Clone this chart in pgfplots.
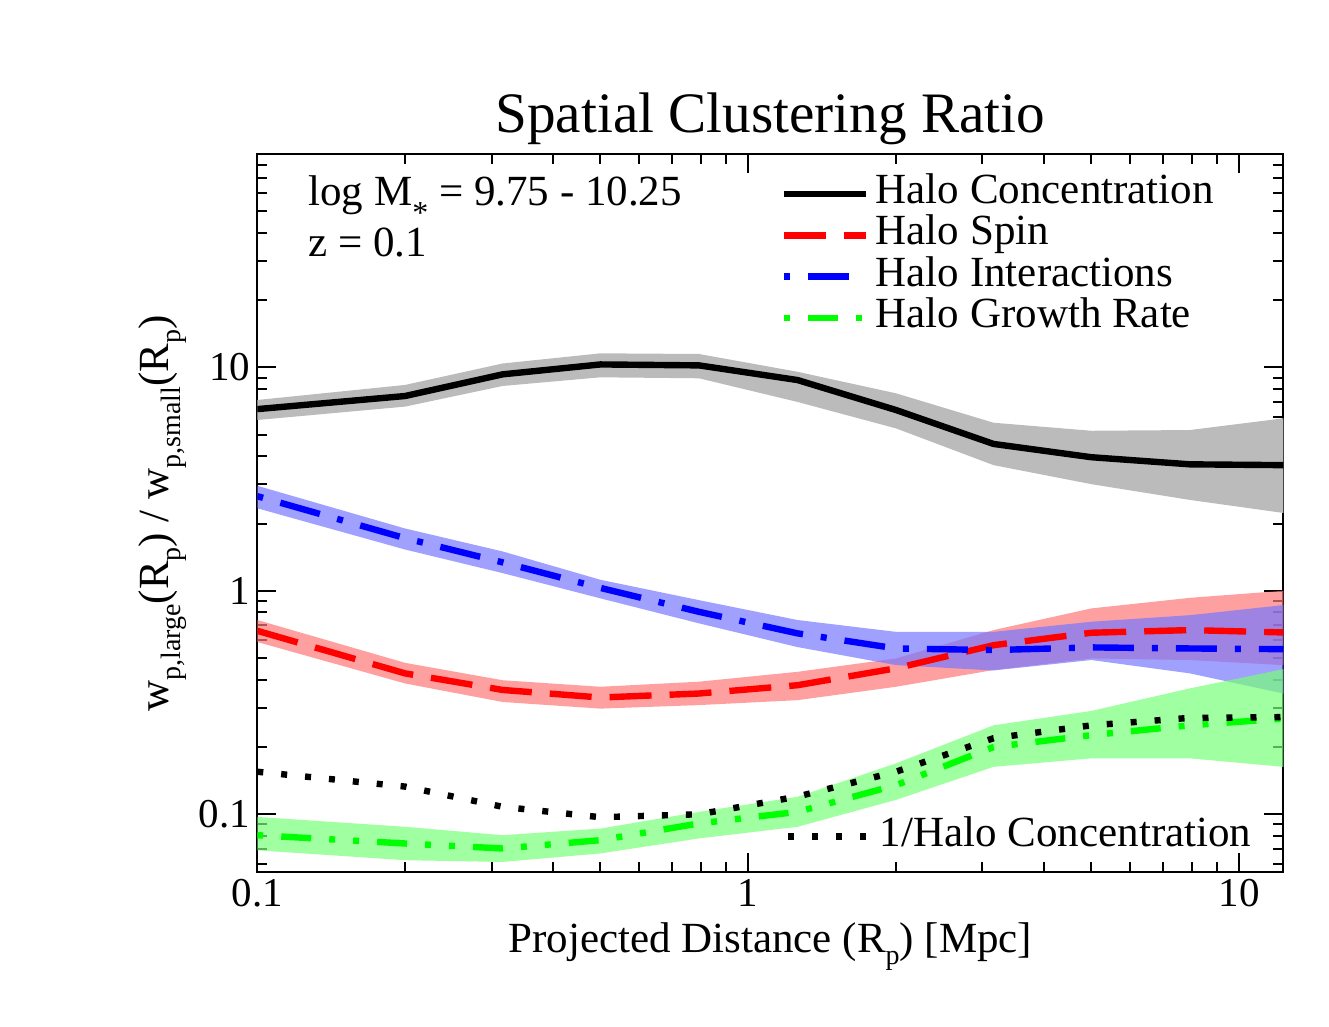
\documentclass[border=0pt]{standalone}
\usepackage{pgfplots}
\pgfplotsset{compat=1.18}
\usepackage{fontspec}
\setmainfont{Liberation Serif}

\newcommand{\lab}{\fontsize{21.5}{25}\selectfont}
\newcommand{\tck}{\fontsize{20.5}{24}\selectfont}
\newcommand{\ttl}{\fontsize{28.6}{33}\selectfont}
\newcommand{\sub}[1]{\raisebox{-6pt}{\fontsize{14}{14}\selectfont #1}}
\definecolor{bandgray}{RGB}{187,187,187}
\definecolor{bandred}{RGB}{255,119,119}
\definecolor{bandblue}{RGB}{119,119,255}
\definecolor{bandgreen}{RGB}{119,255,119}

\begin{document}
\begin{tikzpicture}
\useasboundingbox (0,0) rectangle (664.5pt,513.5pt);
\begin{axis}[
  xmode=log, ymode=log,
  scale only axis, width=513pt, height=358.9pt,
  at={(128.65pt,77.35pt)}, anchor=south west,
  xmin=0.1, xmax=12.3, ymin=0.055, ymax=89.6,
  xtick={0.1,1,10}, xticklabels={0.1,1,10},
  ytick={0.1,1,10}, yticklabels={0.1,1,10},
  minor xtick={0.2,0.3,0.4,0.5,0.6,0.7,0.8,0.9,2,3,4,5,6,7,8,9},
  minor ytick={0.06,0.07,0.08,0.09,0.2,0.3,0.4,0.5,0.6,0.7,0.8,0.9,2,3,4,5,6,7,8,9,20,30,40,50,60,70,80},
  tick align=inside,
  major tick length=9.5pt, minor tick length=5pt,
  every tick/.style={black, line width=1pt},
  axis line style={line width=1pt},
  ticklabel style={font=\tck},
  /pgf/number format/assume math mode=true,
  title={Spatial Clustering Ratio},
  title style={font=\ttl, at={(0.5,1.0133)}, anchor=base, yshift=0pt},
  xlabel={Projected Distance (R\sub{p}) [Mpc]},
  xlabel style={font=\lab, at={(0.5,-0.1115)}, anchor=base},
  ylabel={w\sub{p,large}(R\sub{p}) / w\sub{p,small}(R\sub{p})},
  ylabel style={font=\lab, at={(-0.0867,0.5)}, anchor=base},
  legend cell align=left,
  legend style={at={(0.51,0.9738)}, anchor=north west, draw=none, fill=none, inner sep=0pt, font=\lab,
    nodes={inner xsep=3.25pt, inner ysep=0pt, text height=15pt, text depth=5.6pt}, row sep=0pt},
  legend image code/.code={\draw[#1] (0pt,0pt) -- (41pt,0pt);},
]
% bands
\addplot[fill=bandgray, draw=none, forget plot] coordinates {
 (0.1,7.14) (0.2,8.34) (0.316,10.4) (0.5,11.55) (0.794,11.47) (1.26,9.55) (2.0,7.65) (3.16,5.65) (5.0,5.2) (7.94,5.24) (12.3,5.91)
 (12.3,2.23) (7.94,2.55) (5.0,3.0) (3.16,3.65) (2.0,5.33) (1.26,7.0) (0.794,8.93) (0.5,9.02) (0.316,8.25) (0.2,6.67) (0.1,5.81)};
\addplot[fill=bandred, fill opacity=0.7, draw=none, forget plot] coordinates {
 (0.1,0.74) (0.2,0.476) (0.316,0.398) (0.5,0.372) (0.794,0.392) (1.26,0.434) (2.0,0.498) (3.16,0.667) (5.0,0.834) (7.94,0.93) (12.3,1.0)
 (12.3,0.465) (7.94,0.49) (5.0,0.498) (3.16,0.442) (2.0,0.372) (1.26,0.324) (0.794,0.308) (0.5,0.297) (0.316,0.318) (0.2,0.385) (0.1,0.59)};
\addplot[fill=bandblue, fill opacity=0.7, draw=none, forget plot] coordinates {
 (0.1,2.95) (0.2,1.90) (0.316,1.50) (0.5,1.12) (0.794,0.908) (1.26,0.74) (2.0,0.655) (3.16,0.655) (5.0,0.727) (7.94,0.778) (12.3,0.863)
 (12.3,0.347) (7.94,0.427) (5.0,0.49) (3.16,0.44) (2.0,0.465) (1.26,0.56) (0.794,0.715) (0.5,0.925) (0.316,1.20) (0.2,1.53) (0.1,2.34)};
\addplot[fill=bandgreen, fill opacity=0.7, draw=none, forget plot] coordinates {
 (0.1,0.0973) (0.2,0.0879) (0.316,0.0806) (0.5,0.0863) (0.794,0.1025) (1.26,0.1197) (2.0,0.169) (3.16,0.25) (5.0,0.29) (7.94,0.366) (12.3,0.446)
 (12.3,0.163) (7.94,0.178) (5.0,0.178) (3.16,0.163) (2.0,0.116) (1.26,0.0879) (0.794,0.078) (0.5,0.0668) (0.316,0.0612) (0.2,0.0623) (0.1,0.069)};
% lines
\addplot[black, line width=3.2pt] coordinates {
 (0.1,6.5) (0.2,7.44) (0.316,9.3) (0.5,10.3) (0.794,10.2) (1.26,8.77) (2.0,6.44) (3.16,4.54) (5.0,3.96) (7.94,3.68) (12.3,3.65)};
\addlegendentry{Halo Concentration}
\addplot[red, line width=3.2pt, dash pattern=on 21pt off 9pt] coordinates {
 (0.1,0.662) (0.2,0.427) (0.316,0.36) (0.5,0.333) (0.794,0.347) (1.26,0.378) (2.0,0.45) (3.16,0.571) (5.0,0.649) (7.94,0.667) (12.3,0.651)};
\addlegendentry{Halo Spin}
\addplot[blue, line width=3.2pt, dash pattern=on 20.5pt off 9pt on 3pt off 9pt, dash phase=29.5pt] coordinates {
 (0.1,2.65) (0.2,1.72) (0.316,1.34) (0.5,1.03) (0.794,0.805) (1.26,0.645) (2.0,0.552) (3.16,0.543) (5.0,0.558) (7.94,0.552) (12.3,0.548)};
\addlegendentry{Halo Interactions}
\addplot[green, line width=3.2pt, dash pattern=on 15pt off 9pt on 3pt off 9pt on 3pt off 9pt, dash phase=36pt] coordinates {
 (0.1,0.0806) (0.2,0.074) (0.316,0.0703) (0.5,0.0766) (0.794,0.091) (1.26,0.1025) (2.0,0.135) (3.16,0.2) (5.0,0.226) (7.94,0.25) (12.3,0.268)};
\addlegendentry{Halo Growth Rate}
\node[anchor=base west, inner sep=0pt, font=\lab] at (rel axis cs:0.0494,0.9296) {log M{\fontsize{16}{16}\selectfont\smash{\raisebox{-9pt}{*}}} = 9.75 - 10.25};
\node[anchor=base west, inner sep=0pt, font=\lab] at (rel axis cs:0.0494,0.8576) {z = 0.1};
\end{axis}
\begin{axis}[
  xmode=log, ymode=log,
  scale only axis, width=513pt, height=358.9pt,
  at={(128.65pt,77.35pt)}, anchor=south west,
  xmin=0.1, xmax=12.3, ymin=0.055, ymax=89.6,
  hide axis,
  legend cell align=left,
  legend style={at={(0.514,0.0496)}, anchor=west, draw=none, fill=none, inner sep=0pt, font=\lab,
    nodes={inner xsep=3.25pt, inner ysep=0pt, text height=15pt, text depth=5pt}},
  legend image code/.code={\draw[#1] (0pt,0pt) -- (41pt,0pt);},
]
\addplot[black, line width=3.2pt, dash pattern=on 3pt off 9pt] coordinates {
 (0.1,0.155) (0.2,0.133) (0.316,0.108) (0.5,0.097) (0.794,0.100) (1.26,0.120) (2.0,0.155) (3.16,0.219) (5.0,0.25) (7.94,0.27) (12.3,0.272)};
\addlegendentry{1/Halo Concentration}
\end{axis}
\end{tikzpicture}
\end{document}
